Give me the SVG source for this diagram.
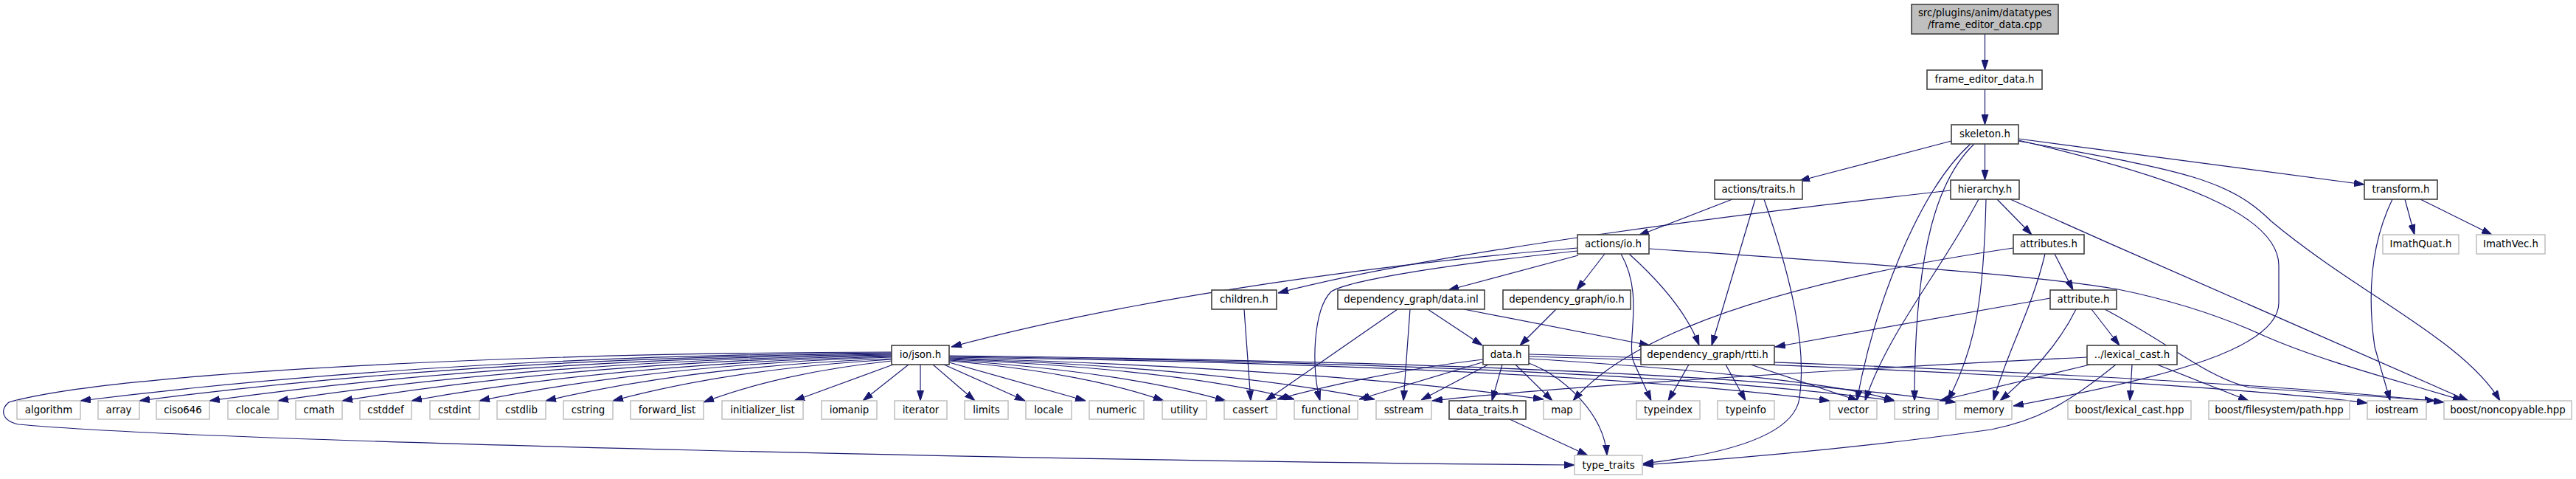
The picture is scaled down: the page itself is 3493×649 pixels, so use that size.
<svg xmlns="http://www.w3.org/2000/svg" width="3493" height="649" viewBox="0 0 3493 649">
<style>
.n rect{fill:#fff;stroke:#404040;stroke-width:1.6}
.l rect{fill:#fff;stroke:#bfbfbf;stroke-width:1.5}
.s rect{fill:#bfbfbf;stroke:#404040;stroke-width:1.6}
text{font-family:"DejaVu Sans","Liberation Sans",sans-serif;font-size:13.33px;fill:#000;text-anchor:middle}
#edges path{fill:none;stroke:#191970;stroke-width:1.2;marker-end:url(#a)}
</style>
<defs>
<marker id="a" viewBox="0 0 14 10" refX="14" refY="5" markerWidth="14" markerHeight="10" markerUnits="userSpaceOnUse" orient="auto"><path d="M0,0.5L14,5L0,9.5z" fill="#191970" stroke="#191970" stroke-width="1"/></marker>
</defs>
<rect width="3493" height="649" fill="#fff"/>
<g id="edges">
<path d="M2691.5,46L2691.5,95"/>
<path d="M2691.5,121L2691.5,169"/>
<path d="M2646,191L2440,245"/>
<path d="M2691.5,195L2691.5,244"/>
<path d="M2737,188L3206,250"/>
<path d="M2672,195C2600,260 2540,420 2518,543"/>
<path d="M2677,195C2630,240 2596,330 2596,543"/>
<path d="M2737,190C2950,240 3090,290 3090,360L3090,410C3090,470 2950,510 2730,550"/>
<path d="M2737,191C2950,230 3020,240 3080,300C3200,400 3340,460 3390,543"/>
<path d="M2349,270L2222,319"/>
<path d="M2380,270L2321,468"/>
<path d="M2392,270C2430,380 2450,470 2440,540C2430,600 2300,620 2228,628"/>
<path d="M2645,258C2400,285 1950,340 1733,397"/>
<path d="M2708,270L2755,318"/>
<path d="M2683,270C2630,370 2560,450 2529,543"/>
<path d="M2693,270C2690,400 2680,470 2641,543"/>
<path d="M2726,270C2950,370 3200,480 3347,543"/>
<path d="M3261,270L3274,318"/>
<path d="M3282,270L3379,318"/>
<path d="M3244,270C3215,330 3210,400 3220,470L3241,543"/>
<path d="M2139,336C1900,355 1550,400 1290,470"/>
<path d="M2139,340C1950,360 1830,380 1805,395C1780,420 1778,500 1790,543"/>
<path d="M2140,346L1964,393"/>
<path d="M2176,344L2138,393"/>
<path d="M2198,344C2230,400 2205,460 2215,490L2239,543"/>
<path d="M2209,344C2260,390 2290,430 2304,468"/>
<path d="M2236,337C2500,355 2760,372 2872,392C2960,410 3020,432 3070,455C3150,490 3250,515 3340,543"/>
<path d="M2786,344L2811,393"/>
<path d="M2730,336C2500,370 2230,430 2133,543"/>
<path d="M2773,344C2755,420 2720,480 2703,543"/>
<path d="M2780,404L2407,470"/>
<path d="M2836,419L2874,468"/>
<path d="M2815,419C2790,470 2750,510 2712,543"/>
<path d="M2854,419C2950,470 2990,510 3050,525L3302,543"/>
<path d="M2830,484C2500,500 2100,525 1942,543"/>
<path d="M2834,494L2630,543"/>
<path d="M2869,494C2800,550 2760,570 2700,582C2500,610 2300,625 2228,630"/>
<path d="M2891,494L2888,543"/>
<path d="M2925,494L3049,543"/>
<path d="M1687,419L1696,543"/>
<path d="M1895,419L1716,543"/>
<path d="M1912,419L1903,543"/>
<path d="M1936,419L2010,468"/>
<path d="M1985,419L2237,468"/>
<path d="M2110,419L2061,468"/>
<path d="M2011,487C1900,500 1790,525 1732,541"/>
<path d="M2013,490L1843,541"/>
<path d="M2018,494L1927,542"/>
<path d="M2037,494L2023,543"/>
<path d="M2055,494L2105,543"/>
<path d="M2073,492C2120,510 2175,560 2179,617"/>
<path d="M2073,486C2300,500 2500,520 2569,543"/>
<path d="M2073,483C2500,495 3000,520 3210,546"/>
<path d="M2073,480C2600,495 3100,520 3314,545"/>
<path d="M2290,494L2262,543"/>
<path d="M2340,494L2367,543"/>
<path d="M2374,494L2520,543"/>
<path d="M2047,568L2153,617"/>
<path d="M1209,478Q600,482 109,543"/>
<path d="M1209,479Q640,484 189,543"/>
<path d="M1209,480Q690,486 284,543"/>
<path d="M1209,481Q740,488 377,543"/>
<path d="M1209,482Q790,490 464,543"/>
<path d="M1209,483Q840,492 558,543"/>
<path d="M1209,484Q890,494 650,543"/>
<path d="M1209,486Q940,496 740,543"/>
<path d="M1209,487Q990,500 831,543"/>
<path d="M1209,489Q1060,505 954,545"/>
<path d="M1211,494L1077,543"/>
<path d="M1232,494L1170,543"/>
<path d="M1248,494L1248,543"/>
<path d="M1265,494L1322,543"/>
<path d="M1280,494L1390,543"/>
<path d="M1287,491L1472,543"/>
<path d="M1287,489Q1470,505 1578,543"/>
<path d="M1287,488Q1520,503 1662,543"/>
<path d="M1287,487Q1600,500 1755,541"/>
<path d="M1287,486Q1650,498 1864,541"/>
<path d="M1287,485Q1800,500 2093,541"/>
<path d="M1287,484Q2100,495 2481,543"/>
<path d="M1287,483Q2200,494 2569,543"/>
<path d="M1287,482Q2300,493 2652,545"/>
<path d="M1209,477C700,478 150,505 12,545C0,555 2,570 25,575C300,600 1500,625 2135,630"/>
</g>
<g id="n_src" class="s"><rect x="2592" y="6" width="199" height="40"/><text x="2691.5" y="22">src/plugins/anim/datatypes</text><text x="2691.5" y="38">/frame_editor_data.cpp</text></g>
<g id="n_fed" class="n"><rect x="2613" y="95" width="156" height="26"/><text x="2691" y="112">frame_editor_data.h</text></g>
<g id="n_skel" class="n"><rect x="2646" y="169" width="91" height="26"/><text x="2691.5" y="186">skeleton.h</text></g>
<g id="n_atraits" class="n"><rect x="2325" y="244" width="119" height="26"/><text x="2384.5" y="261">actions/traits.h</text></g>
<g id="n_hier" class="n"><rect x="2645" y="244" width="93" height="26"/><text x="2691.5" y="261">hierarchy.h</text></g>
<g id="n_transform" class="n"><rect x="3206" y="244" width="99" height="26"/><text x="3255.5" y="261">transform.h</text></g>
<g id="n_aio" class="n"><rect x="2139" y="318" width="97" height="26"/><text x="2187.5" y="335">actions/io.h</text></g>
<g id="n_attrs" class="n"><rect x="2730" y="318" width="96" height="26"/><text x="2778" y="335">attributes.h</text></g>
<g id="n_quat" class="l"><rect x="3231" y="318" width="103" height="26"/><text x="3282.5" y="335">ImathQuat.h</text></g>
<g id="n_vec" class="l"><rect x="3358" y="318" width="93" height="26"/><text x="3404.5" y="335">ImathVec.h</text></g>
<g id="n_children" class="n"><rect x="1643" y="393" width="88" height="26"/><text x="1687" y="410">children.h</text></g>
<g id="n_datainl" class="n"><rect x="1814" y="393" width="199" height="26"/><text x="1913.5" y="410">dependency_graph/data.inl</text></g>
<g id="n_dgio" class="n"><rect x="2038" y="393" width="173" height="26"/><text x="2124.5" y="410">dependency_graph/io.h</text></g>
<g id="n_attr" class="n"><rect x="2780" y="393" width="90" height="26"/><text x="2825" y="410">attribute.h</text></g>
<g id="n_json" class="n"><rect x="1209" y="468" width="78" height="26"/><text x="1248" y="485">io/json.h</text></g>
<g id="n_datah" class="n"><rect x="2011" y="468" width="62" height="26"/><text x="2042" y="485">data.h</text></g>
<g id="n_rtti" class="n"><rect x="2225" y="468" width="181" height="26"/><text x="2315.5" y="485">dependency_graph/rtti.h</text></g>
<g id="n_lexcast" class="n"><rect x="2830" y="468" width="122" height="26"/><text x="2891" y="485">../lexical_cast.h</text></g>
<g id="n_algorithm" class="l"><rect x="23" y="543" width="86" height="25"/><text x="66" y="560">algorithm</text></g>
<g id="n_array" class="l"><rect x="133" y="543" width="56" height="25"/><text x="161" y="560">array</text></g>
<g id="n_ciso646" class="l"><rect x="212" y="543" width="72" height="25"/><text x="248" y="560">ciso646</text></g>
<g id="n_clocale" class="l"><rect x="309" y="543" width="68" height="25"/><text x="343" y="560">clocale</text></g>
<g id="n_cmath" class="l"><rect x="401" y="543" width="63" height="25"/><text x="432.5" y="560">cmath</text></g>
<g id="n_cstddef" class="l"><rect x="488" y="543" width="70" height="25"/><text x="523" y="560">cstddef</text></g>
<g id="n_cstdint" class="l"><rect x="583" y="543" width="67" height="25"/><text x="616.5" y="560">cstdint</text></g>
<g id="n_cstdlib" class="l"><rect x="674" y="543" width="66" height="25"/><text x="707" y="560">cstdlib</text></g>
<g id="n_cstring" class="l"><rect x="764" y="543" width="67" height="25"/><text x="797.5" y="560">cstring</text></g>
<g id="n_forward_list" class="l"><rect x="855" y="543" width="99" height="25"/><text x="904.5" y="560">forward_list</text></g>
<g id="n_initializer_list" class="l"><rect x="979" y="543" width="110" height="25"/><text x="1034" y="560">initializer_list</text></g>
<g id="n_iomanip" class="l"><rect x="1114" y="543" width="75" height="25"/><text x="1151.5" y="560">iomanip</text></g>
<g id="n_iterator" class="l"><rect x="1213" y="543" width="71" height="25"/><text x="1248.5" y="560">iterator</text></g>
<g id="n_limits" class="l"><rect x="1308" y="543" width="59" height="25"/><text x="1337.5" y="560">limits</text></g>
<g id="n_locale" class="l"><rect x="1391" y="543" width="62" height="25"/><text x="1422" y="560">locale</text></g>
<g id="n_numeric" class="l"><rect x="1477" y="543" width="74" height="25"/><text x="1514" y="560">numeric</text></g>
<g id="n_utility" class="l"><rect x="1576" y="543" width="60" height="25"/><text x="1606" y="560">utility</text></g>
<g id="n_cassert" class="l"><rect x="1660" y="543" width="71" height="25"/><text x="1695.5" y="560">cassert</text></g>
<g id="n_functional" class="l"><rect x="1755" y="543" width="86" height="25"/><text x="1798" y="560">functional</text></g>
<g id="n_sstream" class="l"><rect x="1866" y="543" width="75" height="25"/><text x="1903.5" y="560">sstream</text></g>
<g id="n_data_traits" class="n"><rect x="1965" y="543" width="104" height="25"/><text x="2017" y="560">data_traits.h</text></g>
<g id="n_map" class="l"><rect x="2093" y="543" width="50" height="25"/><text x="2118" y="560">map</text></g>
<g id="n_typeindex" class="l"><rect x="2219" y="543" width="86" height="25"/><text x="2262" y="560">typeindex</text></g>
<g id="n_typeinfo" class="l"><rect x="2329" y="543" width="77" height="25"/><text x="2367.5" y="560">typeinfo</text></g>
<g id="n_vector" class="l"><rect x="2481" y="543" width="64" height="25"/><text x="2513" y="560">vector</text></g>
<g id="n_string" class="l"><rect x="2569" y="543" width="59" height="25"/><text x="2598.5" y="560">string</text></g>
<g id="n_memory" class="l"><rect x="2652" y="543" width="76" height="25"/><text x="2690" y="560">memory</text></g>
<g id="n_boost_lexical_cast" class="l"><rect x="2804" y="543" width="167" height="25"/><text x="2887.5" y="560">boost/lexical_cast.hpp</text></g>
<g id="n_boost_path" class="l"><rect x="2995" y="543" width="191" height="25"/><text x="3090.5" y="560">boost/filesystem/path.hpp</text></g>
<g id="n_iostream" class="l"><rect x="3210" y="543" width="80" height="25"/><text x="3250" y="560">iostream</text></g>
<g id="n_noncopyable" class="l"><rect x="3314" y="543" width="173" height="25"/><text x="3400.5" y="560">boost/noncopyable.hpp</text></g>
<g id="n_type_traits" class="l"><rect x="2135" y="617" width="92" height="26"/><text x="2181" y="635">type_traits</text></g>
</svg>
